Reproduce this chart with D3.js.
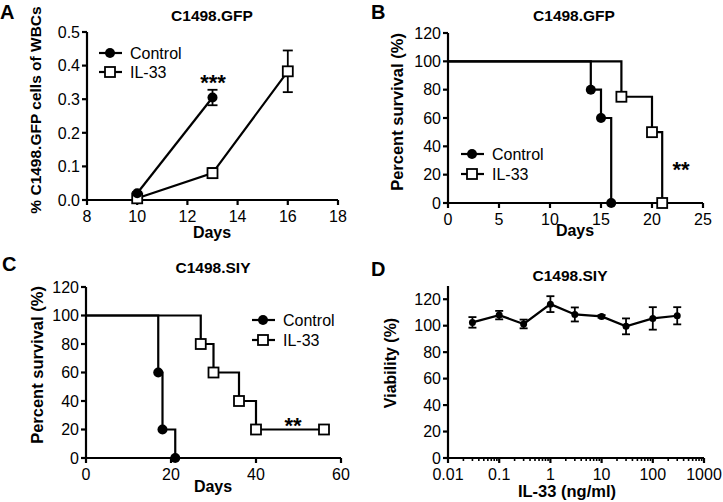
<!DOCTYPE html>
<html><head><meta charset="utf-8">
<script src="https://cdn.jsdelivr.net/npm/d3@7"></script>
<style>body{margin:0;background:#fff}svg{display:block}text{font-family:"Liberation Sans",Arial,sans-serif;fill:#000}</style>
</head><body><svg id="c" width="723" height="502"></svg>
<script>
// Panel A data
const aDays = [10, 13, 16];
const aControl = [0.02, 0.305];
const aControlErr = [0.004, 0.023];
const aIL33 = [0.005, 0.08, 0.383];
const aIL33Err = [0.004, 0.015, 0.062];
const aXTicks = [8, 10, 12, 14, 16, 18];
const aYTicks = [0, 0.1, 0.2, 0.3, 0.4, 0.5];
// Panel B survival
const bControlDays = [0, 14, 15, 16];
const bControlSurv = [100, 80, 60, 0];
const bIL33Days = [0, 17, 20, 21];
const bIL33Surv = [100, 75, 50, 0];
const bXTicks = [0, 5, 10, 15, 20, 25];
const survYTicks = [0, 20, 40, 60, 80, 100, 120];
// Panel C survival
const cControlDays = [0, 17, 18, 21];
const cControlSurv = [100, 60, 20, 0];
const cIL33Days = [0, 27, 30, 36, 40, 56];
const cIL33Surv = [100, 80, 60, 40, 20, 20];
const cXTicks = [0, 20, 40, 60];
// Panel D viability
const dDose = [0.03, 0.1, 0.3, 1, 3, 10, 30, 100, 300];
const dViability = [102.5, 108, 101.3, 116.3, 108.5, 107, 99.5, 105.5, 107.5];
const dErr = [4, 3.2, 3.3, 6, 5.3, 1, 6, 8.5, 6.5];
const dXTicks = [0.01, 0.1, 1, 10, 100, 1000];
const dYTicks = [0, 20, 40, 60, 80, 100, 120];

const svg = d3.select("#c");
const SW = 2.2;
const TICK_FS = 16;

function axes(g, x, y, xt, yt, yfmt, xfmt, minor) {
  const [x0] = x.range(); const [y0] = y.range();
  const xr = x.range(), yr = y.range();
  g.append("line").attr("x1", xr[0]).attr("x2", xr[1]).attr("y1", y0).attr("y2", y0).attr("stroke", "#000").attr("stroke-width", SW);
  g.append("line").attr("x1", x0).attr("x2", x0).attr("y1", yr[0] + 1).attr("y2", yr[1]).attr("stroke", "#000").attr("stroke-width", SW);
  if (minor) {
    g.selectAll(".mn").data(minor).enter().append("line")
      .attr("x1", d => x(d)).attr("x2", d => x(d)).attr("y1", y0).attr("y2", y0 + 3)
      .attr("stroke", "#000").attr("stroke-width", 1.6);
  }
  xt.forEach(t => {
    g.append("line").attr("x1", x(t)).attr("x2", x(t)).attr("y1", y0).attr("y2", y0 + 5).attr("stroke", "#000").attr("stroke-width", SW);
    g.append("text").attr("x", x(t)).attr("y", y0 + 22).attr("text-anchor", "middle").attr("font-size", TICK_FS).text(xfmt(t));
  });
  yt.forEach(t => {
    g.append("line").attr("x1", x0 - 5).attr("x2", x0).attr("y1", y(t)).attr("y2", y(t)).attr("stroke", "#000").attr("stroke-width", SW);
    g.append("text").attr("x", x0 - 7).attr("y", y(t) + 5.7).attr("text-anchor", "end").attr("font-size", TICK_FS).text(yfmt(t));
  });
}

function label(x, y, txt, size, bold, anchor, rot) {
  const t = svg.append("text").attr("font-size", size).attr("font-weight", bold ? "bold" : "normal")
    .attr("text-anchor", anchor || "middle").text(txt);
  if (rot) t.attr("transform", `translate(${x},${y}) rotate(-90)`); else t.attr("x", x).attr("y", y);
  return t;
}

function circleMark(g, cx, cy, r) {
  g.append("circle").attr("cx", cx).attr("cy", cy).attr("r", r).attr("fill", "#000");
}
function squareMark(g, cx, cy, s) {
  g.append("rect").attr("x", cx - s / 2).attr("y", cy - s / 2).attr("width", s).attr("height", s)
    .attr("fill", "#fff").attr("stroke", "#000").attr("stroke-width", 1.8);
}
function legend(g, x, y, kind, txt) {
  g.append("line").attr("x1", x - 11).attr("x2", x + 12).attr("y1", y).attr("y2", y).attr("stroke", "#000").attr("stroke-width", SW);
  if (kind === "c") circleMark(g, x, y, 5); else squareMark(g, x, y, 10);
  g.append("text").attr("x", x + 20).attr("y", y + 5.7).attr("font-size", 16).text(txt);
}
function errBar(g, cx, lo, hi, w) {
  g.append("line").attr("x1", cx).attr("x2", cx).attr("y1", lo).attr("y2", hi).attr("stroke", "#000").attr("stroke-width", 1.8);
  [lo, hi].forEach(v => g.append("line").attr("x1", cx - w).attr("x2", cx + w).attr("y1", v).attr("y2", v).attr("stroke", "#000").attr("stroke-width", 1.8));
}

// ---------- Panel A ----------
{
  const g = svg.append("g");
  const x = d3.scaleLinear().domain([8, 18]).range([87, 338]);
  const y = d3.scaleLinear().domain([0, 0.5]).range([200, 32]);
  axes(g, x, y, aXTicks, aYTicks, d3.format(".1f"), d3.format("d"));
  const line = d3.line().x(d => x(d[0])).y(d => y(d[1]));
  const ctl = aControl.map((v, i) => [aDays[i], v]);
  const il = aIL33.map((v, i) => [aDays[i], v]);
  g.append("path").attr("d", line(il)).attr("fill", "none").attr("stroke", "#000").attr("stroke-width", SW);
  g.append("path").attr("d", line(ctl)).attr("fill", "none").attr("stroke", "#000").attr("stroke-width", SW);
  il.forEach((p, i) => errBar(g, x(p[0]), y(p[1] - aIL33Err[i]), y(p[1] + aIL33Err[i]), 5));
  ctl.forEach((p, i) => errBar(g, x(p[0]), y(p[1] - aControlErr[i]), y(p[1] + aControlErr[i]), 5));
  il.forEach(p => squareMark(g, x(p[0]), y(p[1]), 10));
  ctl.forEach(p => circleMark(g, x(p[0]), y(p[1]), 5));
  legend(g, 110, 53, "c", "Control");
  legend(g, 110, 72, "s", "IL-33");
  label(213, 90, "***", 22, true);
  label(212, 21, "C1498.GFP", 15.5, true);
  label(212, 238, "Days", 16, true);
  label(41, 110, "% C1498.GFP cells of WBCs", 15.5, true, "middle", true);
  label(0, 18.5, "A", 20, true, "start");
}

// ---------- Panel B ----------
{
  const g = svg.append("g");
  const x = d3.scaleLinear().domain([0, 25]).range([448, 703]);
  const y = d3.scaleLinear().domain([0, 120]).range([203, 33]);
  axes(g, x, y, bXTicks, survYTicks, d3.format("d"), d3.format("d"));
  const step = d3.line().x(d => x(d[0])).y(d => y(d[1])).curve(d3.curveStepAfter);
  const ctl = bControlDays.map((d, i) => [d, bControlSurv[i]]);
  const il = bIL33Days.map((d, i) => [d, bIL33Surv[i]]);
  g.append("path").attr("d", step(il)).attr("fill", "none").attr("stroke", "#000").attr("stroke-width", SW);
  g.append("path").attr("d", step(ctl)).attr("fill", "none").attr("stroke", "#000").attr("stroke-width", SW);
  il.slice(1).forEach(p => squareMark(g, x(p[0]), y(p[1]), 10));
  ctl.slice(1).forEach(p => circleMark(g, x(p[0]), y(p[1]), 5));
  legend(g, 472, 154, "c", "Control");
  legend(g, 472, 174, "s", "IL-33");
  label(681, 177, "**", 22, true);
  label(574, 21, "C1498.GFP", 15.5, true);
  label(575, 236, "Days", 16, true);
  label(403, 112, "Percent survival (%)", 16.5, true, "middle", true);
  label(371, 18.5, "B", 20, true, "start");
}

// ---------- Panel C ----------
{
  const g = svg.append("g");
  const x = d3.scaleLinear().domain([0, 60]).range([86, 341]);
  const y = d3.scaleLinear().domain([0, 120]).range([458, 287]);
  axes(g, x, y, cXTicks, survYTicks, d3.format("d"), d3.format("d"));
  const step = d3.line().x(d => x(d[0])).y(d => y(d[1])).curve(d3.curveStepAfter);
  const ctl = cControlDays.map((d, i) => [d, cControlSurv[i]]);
  const il = cIL33Days.map((d, i) => [d, cIL33Surv[i]]);
  g.append("path").attr("d", step(il)).attr("fill", "none").attr("stroke", "#000").attr("stroke-width", SW);
  g.append("path").attr("d", step(ctl)).attr("fill", "none").attr("stroke", "#000").attr("stroke-width", SW);
  il.slice(1).forEach(p => squareMark(g, x(p[0]), y(p[1]), 10));
  ctl.slice(1).forEach(p => circleMark(g, x(p[0]), y(p[1]), 5));
  legend(g, 263, 320, "c", "Control");
  legend(g, 263, 340, "s", "IL-33");
  label(293, 433, "**", 22, true);
  label(213, 273, "C1498.SIY", 15.5, true);
  label(213, 492, "Days", 16, true);
  label(43, 365, "Percent survival (%)", 16.5, true, "middle", true);
  label(2, 271, "C", 20, true, "start");
}

// ---------- Panel D ----------
{
  const g = svg.append("g");
  const x = d3.scaleLog().domain([0.01, 1000]).range([448, 704]);
  const y = d3.scaleLinear().domain([0, 130]).range([458, 286]);
  const minor = [];
  for (let e = -2; e < 3; e++) for (let m = 2; m <= 9; m++) minor.push(m * Math.pow(10, e));
  axes(g, x, y, dXTicks, dYTicks, d3.format("d"), d => d < 1 ? String(d) : d3.format("d")(d), minor);
  const pts = dDose.map((d, i) => [d, dViability[i]]);
  const line = d3.line().x(d => x(d[0])).y(d => y(d[1]));
  g.append("path").attr("d", line(pts)).attr("fill", "none").attr("stroke", "#000").attr("stroke-width", SW);
  pts.forEach((p, i) => errBar(g, x(p[0]), y(p[1] - dErr[i]), y(p[1] + dErr[i]), 4));
  pts.forEach(p => circleMark(g, x(p[0]), y(p[1]), 3.5));
  label(570, 281, "C1498.SIY", 15.5, true);
  label(567, 497, "IL-33 (ng/ml)", 16.5, true);
  label(396, 363, "Viability (%)", 16, true, "middle", true);
  label(371, 276, "D", 20, true, "start");
}
</script></body></html>
